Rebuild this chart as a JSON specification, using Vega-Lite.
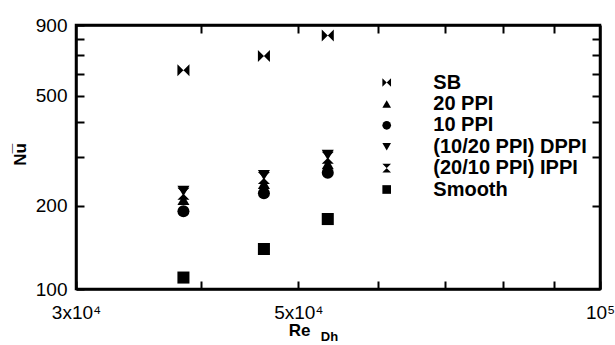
{
  "$schema": "https://vega.github.io/schema/vega-lite/v6.json",
  "width": 524,
  "height": 264,
  "autosize": {"type": "none"},
  "padding": {"left": 76, "top": 25, "right": 15, "bottom": 56},
  "background": "white",
  "view": {"stroke": "black", "strokeWidth": 2.5},
  "data": {
    "values": [
      {"Re": 38400, "Nu": 618, "series": "SB"},
      {"Re": 46200, "Nu": 695, "series": "SB"},
      {"Re": 53500, "Nu": 825, "series": "SB"},
      {"Re": 38400, "Nu": 210, "series": "20 PPI"},
      {"Re": 46200, "Nu": 240, "series": "20 PPI"},
      {"Re": 53500, "Nu": 283, "series": "20 PPI"},
      {"Re": 38400, "Nu": 191, "series": "10 PPI"},
      {"Re": 46200, "Nu": 222, "series": "10 PPI"},
      {"Re": 53500, "Nu": 263, "series": "10 PPI"},
      {"Re": 38400, "Nu": 226, "series": "(10/20 PPI) DPPI"},
      {"Re": 46200, "Nu": 258, "series": "(10/20 PPI) DPPI"},
      {"Re": 53500, "Nu": 305, "series": "(10/20 PPI) DPPI"},
      {"Re": 38400, "Nu": 221, "series": "(20/10 PPI) IPPI"},
      {"Re": 46200, "Nu": 252, "series": "(20/10 PPI) IPPI"},
      {"Re": 53500, "Nu": 298, "series": "(20/10 PPI) IPPI"},
      {"Re": 38400, "Nu": 110, "series": "Smooth"},
      {"Re": 46200, "Nu": 139.5, "series": "Smooth"},
      {"Re": 53500, "Nu": 179, "series": "Smooth"}
    ]
  },
  "layer": [
    {
      "mark": {"type": "point", "filled": true, "opacity": 1, "color": "black", "strokeWidth": 0, "size": 145},
      "encoding": {
        "x": {
          "field": "Re",
          "type": "quantitative",
          "scale": {"type": "log", "domain": [30000, 100000], "nice": false},
          "axis": {
            "orient": "bottom",
            "gridOpacity": 0,
            "values": [30000, 40000, 50000, 60000, 70000, 80000, 90000, 100000],
            "labelExpr": "datum.value == 30000 ? '3x10⁴' : datum.value == 50000 ? '5x10⁴' : datum.value == 100000 ? '10⁵' : ''",
            "domainColor": "black",
            "domainWidth": 2.5,
            "tickColor": "black",
            "tickWidth": 2,
            "tickSize": -8,
            "labelPadding": 22,
            "labelColor": "black",
            "labelFont": "Liberation Sans",
            "labelFontSize": 19,
            "labelFlush": false,
            "labelOverlap": false,
            "labelBound": false,
            "title": "Re",
            "titleColor": "black",
            "titleFont": "Liberation Sans",
            "titleFontWeight": "bold",
            "titleFontSize": 17,
            "titleX": 223,
            "titleY": 41,
            "titleAlign": "center",
            "titleBaseline": "middle"
          }
        },
        "y": {
          "field": "Nu",
          "type": "quantitative",
          "scale": {"type": "log", "domain": [100, 900], "nice": false},
          "axis": {
            "orient": "left",
            "gridOpacity": 0,
            "values": [100, 200, 300, 400, 500, 600, 700, 800, 900],
            "labelExpr": "indexof([100, 200, 500, 900], datum.value) >= 0 ? datum.label : ''",
            "domainColor": "black",
            "domainWidth": 2.5,
            "tickColor": "black",
            "tickWidth": 2,
            "tickSize": -8,
            "labelPadding": 17,
            "labelColor": "black",
            "labelFont": "Liberation Sans",
            "labelFontSize": 19,
            "labelFlush": false,
            "labelOverlap": false,
            "labelBound": false,
            "title": "Nu̅",
            "titleColor": "black",
            "titleFont": "Liberation Sans",
            "titleFontWeight": "bold",
            "titleFontSize": 17,
            "titleAngle": -90,
            "titleX": -56,
            "titleY": 129,
            "titleAlign": "center",
            "titleBaseline": "middle"
          }
        },
        "shape": {
          "field": "series",
          "type": "nominal",
          "scale": {
            "domain": ["SB", "20 PPI", "10 PPI", "(10/20 PPI) DPPI", "(20/10 PPI) IPPI", "Smooth"],
            "range": [
              "M-1,-1L1,1L1,-1L-1,1Z",
              "triangle-up",
              "circle",
              "triangle-down",
              "M-1,-1L1,-1L-1,1L1,1Z",
              "square"
            ]
          },
          "legend": {
            "title": null,
            "orient": "none",
            "legendX": 300.7,
            "legendY": 47.5,
            "padding": 0,
            "labelFont": "Liberation Sans",
            "labelFontWeight": "bold",
            "labelFontSize": 20,
            "labelColor": "black",
            "labelOffset": 36.6,
            "rowPadding": 1.4,
            "symbolSize": 75,
            "symbolFillColor": "black",
            "symbolStrokeWidth": 0
          }
        }
      }
    },
    {
      "mark": {"type": "point", "opacity": 0},
      "encoding": {
        "x": {
          "field": "Re",
          "type": "quantitative",
          "axis": {
            "orient": "top",
            "gridOpacity": 0,
            "values": [40000, 50000, 60000, 70000, 80000, 90000],
            "labelExpr": "''",
            "domainColor": "black",
            "domainWidth": 2.5,
            "tickColor": "black",
            "tickWidth": 2,
            "tickSize": -8,
            "title": "Dh",
            "titleColor": "black",
            "titleFont": "Liberation Sans",
            "titleFontWeight": "bold",
            "titleFontSize": 13,
            "titleX": 253,
            "titleY": 311,
            "titleAlign": "center",
            "titleBaseline": "middle"
          }
        },
        "y": {
          "field": "Nu",
          "type": "quantitative",
          "axis": {
            "orient": "right",
            "gridOpacity": 0,
            "values": [200, 300, 400, 500, 600, 700, 800],
            "labelExpr": "''",
            "domainColor": "black",
            "domainWidth": 2.5,
            "tickColor": "black",
            "tickWidth": 2,
            "tickSize": -8,
            "title": null
          }
        }
      }
    }
  ],
  "resolve": {"axis": {"x": "independent", "y": "independent"}}
}
